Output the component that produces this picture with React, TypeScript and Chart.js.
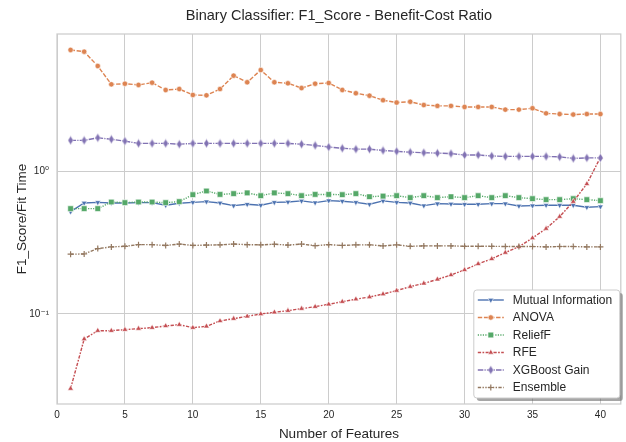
import React, { useEffect, useRef } from 'react';
import { Chart, registerables } from 'chart.js';
import { drawPoint } from 'chart.js/helpers';

Chart.register(...registerables);

const FONT = '"Liberation Sans", Arial, "DejaVu Sans", sans-serif';
const TEXT = '#262626';
const GRID = '#cccccc';

// Number of selected features (x values)
const features = [
  1, 2, 3, 4, 5, 6, 7, 8, 9, 10, 11, 12, 13, 14, 15, 16, 17, 18, 19, 20,
  21, 22, 23, 24, 25, 26, 27, 28, 29, 30, 31, 32, 33, 34, 35, 36, 37, 38, 39, 40,
];

// F1 score divided by fit time, per selection method
const mutualInfo = [
  0.524, 0.603, 0.609, 0.603, 0.603, 0.606, 0.606, 0.581, 0.6, 0.609,
  0.616, 0.603, 0.577, 0.59, 0.581, 0.609, 0.612, 0.623, 0.606, 0.626,
  0.62, 0.609, 0.59, 0.623, 0.609, 0.603, 0.577, 0.596, 0.593, 0.59,
  0.59, 0.596, 0.596, 0.574, 0.577, 0.581, 0.581, 0.581, 0.562, 0.568,
];
const anova = [
  7.17, 6.97, 5.53, 4.11, 4.15, 4.07, 4.22, 3.75, 3.81, 3.46,
  3.44, 3.81, 4.73, 4.25, 5.18, 4.25, 4.18, 3.87, 4.15, 4.2,
  3.75, 3.56, 3.42, 3.18, 3.06, 3.1, 2.94, 2.9, 2.9, 2.85,
  2.85, 2.85, 2.73, 2.73, 2.79, 2.57, 2.54, 2.52, 2.54, 2.54,
];
const reliefF = [
  0.55, 0.55, 0.55, 0.612, 0.606, 0.612, 0.612, 0.606, 0.616, 0.689,
  0.732, 0.692, 0.701, 0.709, 0.678, 0.709, 0.701, 0.678, 0.692, 0.692,
  0.689, 0.701, 0.667, 0.674, 0.678, 0.657, 0.678, 0.657, 0.667, 0.657,
  0.678, 0.657, 0.678, 0.657, 0.646, 0.636, 0.636, 0.646, 0.636, 0.626,
];
const rfe = [
  0.0299, 0.0667, 0.0763, 0.0763, 0.0776, 0.0789, 0.0801, 0.0824, 0.0841, 0.0801,
  0.0819, 0.0893, 0.0927, 0.0963, 0.1, 0.1028, 0.1055, 0.109, 0.1125, 0.117,
  0.122, 0.127, 0.1316, 0.138, 0.146, 0.1556, 0.164, 0.175, 0.188, 0.204,
  0.225, 0.244, 0.27, 0.297, 0.342, 0.398, 0.483, 0.616, 0.82, 1.26,
];
const xgboostGain = [
  1.66, 1.66, 1.73, 1.69, 1.64, 1.58, 1.58, 1.58, 1.56, 1.58,
  1.58, 1.58, 1.58, 1.58, 1.58, 1.58, 1.58, 1.56, 1.53, 1.49,
  1.46, 1.44, 1.44, 1.41, 1.39, 1.37, 1.36, 1.35, 1.34, 1.31,
  1.31, 1.29, 1.28, 1.28, 1.28, 1.28, 1.27, 1.24, 1.25, 1.25,
];
const ensemble = [
  0.263, 0.264, 0.288, 0.296, 0.299, 0.307, 0.307, 0.303, 0.31, 0.303,
  0.305, 0.306, 0.31, 0.307, 0.306, 0.309, 0.305, 0.31, 0.302, 0.307,
  0.303, 0.306, 0.306, 0.301, 0.306, 0.299, 0.301, 0.301, 0.301, 0.299,
  0.299, 0.299, 0.298, 0.298, 0.298, 0.296, 0.298, 0.298, 0.296, 0.296,
];

const xTicks = [0, 5, 10, 15, 20, 25, 30, 35, 40];
const yTicks = [0.1, 1];
const yTickLabels = ['10\u207B\u00B9', '10\u2070'];

const TITLE = 'Binary Classifier: F1_Score - Benefit-Cost Ratio';

// Thin diamond marker (matplotlib "d")
function thinDiamond(color: string): HTMLCanvasElement {
  const c = document.createElement('canvas');
  c.width = 7;
  c.height = 10;
  const g = c.getContext('2d')!;
  g.beginPath();
  g.moveTo(3.5, 0.6);
  g.lineTo(6.2, 5);
  g.lineTo(3.5, 9.4);
  g.lineTo(0.8, 5);
  g.closePath();
  g.fillStyle = color;
  g.fill();
  g.strokeStyle = 'rgba(255,255,255,0.8)';
  g.lineWidth = 0.6;
  g.stroke();
  return c;
}

interface SeriesDef {
  label: string;
  values: number[];
  color: string;
  dash: number[];
  style: any;
  radius: number;
  rotation: number;
  edge: string;
  edgeWidth: number;
}

function buildSeries(): SeriesDef[] {
  return [
    { label: 'Mutual Information', values: mutualInfo, color: '#4c72b0', dash: [], style: 'triangle', radius: 3.3, rotation: 180, edge: '#ffffff', edgeWidth: 0.6 },
    { label: 'ANOVA', values: anova, color: '#dd8452', dash: [4.4, 1.7], style: 'circle', radius: 2.7, rotation: 0, edge: '#ffffff', edgeWidth: 0.6 },
    { label: 'ReliefF', values: reliefF, color: '#55a868', dash: [1.2, 1.3], style: 'rect', radius: 4, rotation: 0, edge: '#ffffff', edgeWidth: 0.6 },
    { label: 'RFE', values: rfe, color: '#c44e52', dash: [3.3, 1.4, 1.7, 1.4], style: 'triangle', radius: 3.3, rotation: 0, edge: '#ffffff', edgeWidth: 0.6 },
    { label: 'XGBoost Gain', values: xgboostGain, color: '#8172b3', dash: [5.5, 1.2, 1.2, 1.2], style: thinDiamond('#8172b3'), radius: 3, rotation: 0, edge: '#ffffff', edgeWidth: 0.6 },
    { label: 'Ensemble', values: ensemble, color: '#937860', dash: [3.3, 1.4, 1.4, 1.4, 1.4, 1.4], style: 'cross', radius: 3, rotation: 0, edge: '#937860', edgeWidth: 1.2 },
  ];
}

const framePlugin = {
  id: 'frameAndTitle',
  afterDatasetsDraw(chart: any) {
    const { ctx, chartArea: a } = chart;
    ctx.save();
    ctx.strokeStyle = GRID;
    ctx.lineWidth = 1.25;
    ctx.strokeRect(a.left, a.top, a.right - a.left, a.bottom - a.top);
    ctx.restore();
  },
  afterDraw(chart: any) {
    const { ctx, chartArea: a } = chart;
    ctx.save();
    ctx.fillStyle = TEXT;
    ctx.font = `14.5px ${FONT}`;
    ctx.textAlign = 'center';
    ctx.textBaseline = 'middle';
    ctx.fillText(TITLE, (a.left + a.right) / 2, 16);
    ctx.restore();
  },
};

function roundRect(ctx: CanvasRenderingContext2D, x: number, y: number, w: number, h: number, r: number) {
  ctx.beginPath();
  ctx.moveTo(x + r, y);
  ctx.lineTo(x + w - r, y);
  ctx.arcTo(x + w, y, x + w, y + r, r);
  ctx.lineTo(x + w, y + h - r);
  ctx.arcTo(x + w, y + h, x + w - r, y + h, r);
  ctx.lineTo(x + r, y + h);
  ctx.arcTo(x, y + h, x, y + h - r, r);
  ctx.lineTo(x, y + r);
  ctx.arcTo(x, y, x + r, y, r);
  ctx.closePath();
}

const legendPlugin = {
  id: 'boxLegend',
  afterDraw(chart: any) {
    const { ctx, chartArea: a } = chart;
    const datasets = chart.data.datasets;
    const w = 146;
    const h = 108;
    const x = a.right - w - 1;
    const y = a.bottom - h - 6;
    ctx.save();
    // shadow
    roundRect(ctx, x + 3, y + 3, w, h, 3);
    ctx.fillStyle = 'rgba(77,77,77,0.5)';
    ctx.fill();
    roundRect(ctx, x, y, w, h, 3);
    ctx.fillStyle = 'rgba(255,255,255,1)';
    ctx.fill();
    ctx.strokeStyle = GRID;
    ctx.lineWidth = 1;
    ctx.stroke();

    const rowH = 17.5;
    datasets.forEach((ds: any, i: number) => {
      const cy = y + 10 + i * rowH;
      const hx0 = x + 4;
      const hx1 = x + 30;
      ctx.save();
      ctx.strokeStyle = ds.borderColor;
      ctx.lineWidth = ds.borderWidth;
      ctx.setLineDash(ds.borderDash || []);
      ctx.beginPath();
      ctx.moveTo(hx0, cy);
      ctx.lineTo(hx1, cy);
      ctx.stroke();
      ctx.setLineDash([]);
      ctx.fillStyle = ds.pointBackgroundColor;
      ctx.strokeStyle = ds.pointBorderColor;
      ctx.lineWidth = ds.pointBorderWidth;
      drawPoint(ctx, {
        pointStyle: ds.pointStyle,
        rotation: ds.pointRotation,
        radius: ds.pointRadius,
        borderWidth: ds.pointBorderWidth,
      } as any, (hx0 + hx1) / 2, cy);
      ctx.restore();
      ctx.fillStyle = TEXT;
      ctx.font = `12px ${FONT}`;
      ctx.textAlign = 'left';
      ctx.textBaseline = 'middle';
      ctx.fillText(ds.label, x + 39, cy + 0.5);
    });
    ctx.restore();
  },
};

export default function App() {
  const canvasRef = useRef<HTMLCanvasElement>(null);

  useEffect(() => {
    const series = buildSeries();
    Chart.defaults.font.family = FONT;
    const chart = new Chart(canvasRef.current!, {
      type: 'line',
      data: {
        datasets: series.map((s, i) => ({
          label: s.label,
          data: features.map((f, j) => ({ x: f, y: s.values[j] })),
          borderColor: s.color,
          backgroundColor: s.color,
          borderWidth: 1.4,
          borderDash: s.dash,
          pointStyle: s.style,
          pointRadius: s.radius,
          pointRotation: s.rotation,
          pointBackgroundColor: s.color,
          pointBorderColor: s.edge,
          pointBorderWidth: s.edgeWidth,
          tension: 0,
          fill: false,
          order: series.length - i,
        })),
      },
      options: {
        responsive: false,
        animation: false,
        devicePixelRatio: 1,
        layout: { padding: { top: 34, right: 2, left: 0, bottom: 0 } },
        plugins: {
          legend: { display: false },
          tooltip: { enabled: false },
          title: { display: false },
        },
        scales: {
          x: {
            type: 'linear',
            min: 0,
            max: 41.5,
            afterBuildTicks: (s: any) => {
              s.ticks = xTicks.map((v) => ({ value: v }));
            },
            afterFit: (s: any) => {
              s.height = 38;
            },
            grid: { color: GRID, lineWidth: 1, drawTicks: false },
            border: { display: false },
            ticks: {
              padding: 5,
              color: TEXT,
              font: { size: 10 },
              maxRotation: 0,
              autoSkip: false,
              callback: (v: any) => String(v),
            },
            title: {
              display: true,
              text: 'Number of Features',
              color: TEXT,
              font: { size: 13.5 },
              padding: { top: 0, bottom: 0 },
            },
          },
          y: {
            type: 'logarithmic',
            min: 0.0233,
            max: 9.28,
            afterBuildTicks: (s: any) => {
              s.ticks = yTicks.map((v) => ({ value: v }));
            },
            afterFit: (s: any) => {
              s.width = 57;
            },
            grid: { color: GRID, lineWidth: 1, drawTicks: false },
            border: { display: false },
            ticks: {
              padding: 8,
              color: TEXT,
              font: { size: 10 },
              autoSkip: false,
              callback: (_v: any, i: number) => yTickLabels[i],
            },
            title: {
              display: true,
              text: 'F1_Score/Fit Time',
              color: TEXT,
              font: { size: 13.5 },
              padding: { top: 14, bottom: 0 },
            },
          },
        },
      },
      plugins: [framePlugin, legendPlugin],
    } as any);
    return () => chart.destroy();
  }, []);

  return (
    <div style={{ position: 'fixed', left: 0, top: 0, width: 626, height: 442, background: '#ffffff' }}>
      <canvas ref={canvasRef} width={626} height={442} style={{ display: 'block', width: 626, height: 442 }} />
    </div>
  );
}
